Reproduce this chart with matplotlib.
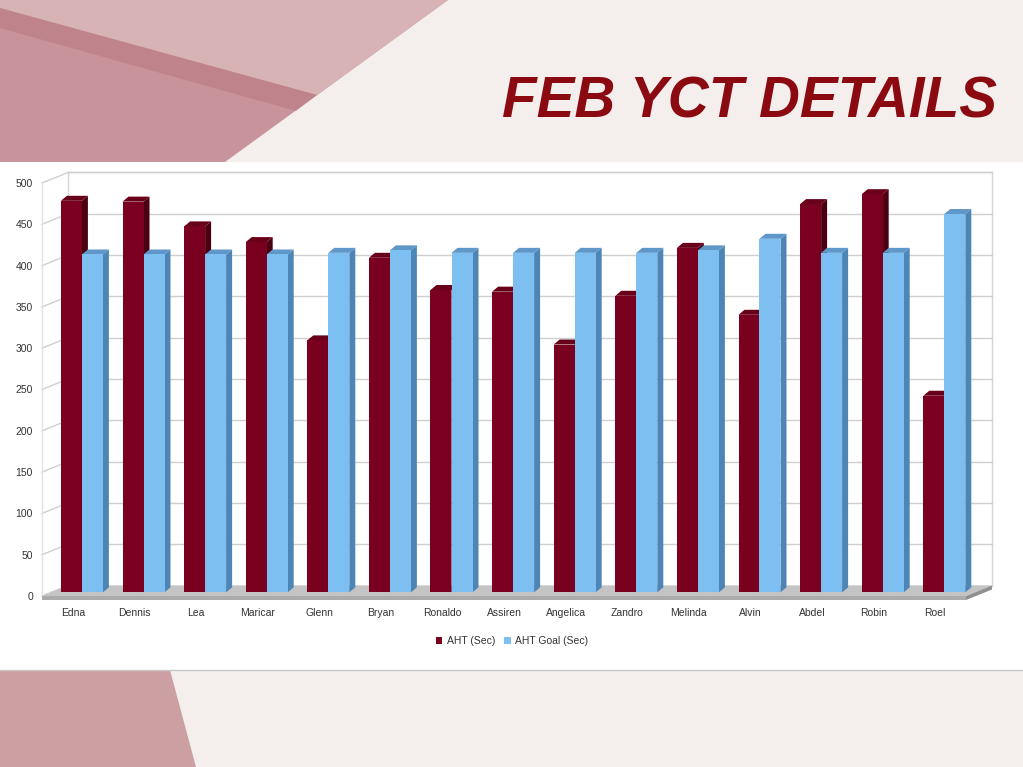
import matplotlib
matplotlib.use('Agg')
import matplotlib.pyplot as plt
from matplotlib.patches import Polygon, Rectangle, Patch
from matplotlib import font_manager

# ---------------- data ----------------
categories = ['Edna', 'Dennis', 'Lea', 'Maricar', 'Glenn', 'Bryan', 'Ronaldo', 'Assiren',
              'Angelica', 'Zandro', 'Melinda', 'Alvin', 'Abdel', 'Robin', 'Roel']
aht = [474, 473, 443, 424, 305, 405, 366, 364, 300, 359, 417, 336, 470, 482, 238]
aht_goal = [409, 409, 409, 409, 411, 414, 411, 411, 411, 411, 414, 428, 411, 411, 458]
series_names = ['AHT (Sec)', 'AHT Goal (Sec)']
yticks = [0, 50, 100, 150, 200, 250, 300, 350, 400, 450, 500]
title = 'FEB YCT DETAILS'

# ---------------- style ----------------
RED = ['#7a0020', '#4a0012', '#68001a']     # front, side, top
BLUE = ['#7dbff1', '#4d86b6', '#5f97c8']
TXT = '#333333'

W, H = 1023, 767
fig = plt.figure(figsize=(W / 100, H / 100), dpi=100)
fig.patch.set_facecolor('#f4efed')


def has_font(name):
    try:
        font_manager.findfont(font_manager.FontProperties(family=name),
                              fallback_to_default=False)
        return True
    except Exception:
        return False


# ---------------- decorative background ----------------
bg = fig.add_axes([0, 0, 1, 1], zorder=0)
bg.set_xlim(0, W)
bg.set_ylim(H, 0)
bg.axis('off')
bg.add_patch(Polygon([(0, 0), (448, 0), (225, 162), (0, 162)], closed=True,
                     facecolor='#c8939a', edgecolor='none'))
bg.add_patch(Polygon([(0, 0), (448, 0), (317, 95), (0, 8)], closed=True,
                     facecolor='#d7b3b6', edgecolor='none'))
bg.add_patch(Polygon([(0, 8), (317, 95), (296, 111), (0, 28)], closed=True,
                     facecolor='#b97a82', edgecolor='none', alpha=0.6))
bg.add_patch(Polygon([(0, 670), (170, 670), (196, 767), (0, 767)], closed=True,
                     facecolor='#cca0a3', edgecolor='none'))
bg.add_patch(Rectangle((0, 162), W, 508, facecolor='white', edgecolor='none'))
bg.plot([0, W], [670, 670], color='#c8c8c8', lw=1)

# ---------------- chart (front plane axes) ----------------
px0, px1 = 42, 966      # x pixel extent of front floor edge
py0, py1 = 596, 183     # pixel of value 0 and value 500 on front plane
ax = fig.add_axes([px0 / W, 1 - py0 / H, (px1 - px0) / W, (py0 - py1) / H], zorder=1)
n = len(categories)
ax.set_xlim(-0.5, n - 0.5)
ax.set_ylim(0, 500)
ax.patch.set_alpha(0)
for s in ax.spines.values():
    s.set_visible(False)

ux = (px1 - px0) / n          # px per x unit
uy = (py0 - py1) / 500.0      # px per y unit
Dx, Dy = 26 / ux, 10.5 / uy   # chart depth
f = 0.35                      # bar depth position
bx, by = f * Dx, f * Dy
w = 21 / ux                   # bar width
sdx, sdy = 6 / ux, 5 / uy     # bar depth faces
t = 4 / uy                    # floor thickness
xl, xr = -0.5, n - 0.5

# back wall
ax.add_patch(Rectangle((xl + Dx, Dy), n, 500, facecolor='white', edgecolor='#d6d6d6',
                       lw=1, clip_on=False, zorder=0.5))
for v in yticks:
    ax.plot([xl + Dx, xr + Dx], [v + Dy, v + Dy], color='#cfcfcf', lw=1,
            clip_on=False, zorder=0.6)
    ax.plot([xl, xl + Dx], [v, v + Dy], color='#cfcfcf', lw=1, clip_on=False, zorder=0.6)
ax.plot([xl, xl], [0, 500], color='#e2e2e2', lw=1, clip_on=False, zorder=0.6)

# floor
ax.add_patch(Polygon([(xl, 0), (xr, 0), (xr + Dx, Dy), (xl + Dx, Dy)], closed=True,
                     facecolor='#c4c4c4', edgecolor='none', clip_on=False, zorder=0.7))
ax.add_patch(Polygon([(xl, 0), (xr, 0), (xr, -t), (xl, -t)], closed=True,
                     facecolor='#ababab', edgecolor='none', clip_on=False, zorder=0.7))
ax.add_patch(Polygon([(xr, 0), (xr + Dx, Dy), (xr + Dx, Dy - t), (xr, -t)], closed=True,
                     facecolor='#909090', edgecolor='none', clip_on=False, zorder=0.7))

# bars
z = 2
for i in range(n):
    for k, (vals, cols) in enumerate([(aht, RED), (aht_goal, BLUE)]):
        v = vals[i]
        xc = i + bx + (k - 0.5) * w
        a, b = xc - w / 2, xc + w / 2
        ax.add_patch(Polygon([(b, by), (b, by + v), (b + sdx, by + v + sdy), (b + sdx, by + sdy)],
                             closed=True, facecolor=cols[1], edgecolor='none',
                             clip_on=False, zorder=z))
        ax.add_patch(Polygon([(a, by + v), (b, by + v), (b + sdx, by + v + sdy), (a + sdx, by + v + sdy)],
                             closed=True, facecolor=cols[2], edgecolor='none',
                             clip_on=False, zorder=z))
        ax.bar(xc, v, width=w, bottom=by, color=cols[0], edgecolor='none',
               clip_on=False, zorder=z + 0.1)
        z += 0.2

# ticks
ax.set_yticks(yticks)
ax.set_yticklabels([str(v) for v in yticks], fontsize=7.5, color=TXT, family='Liberation Sans')
ax.set_xticks(range(n))
ax.set_xticklabels(categories, fontsize=7.5, color=TXT, family='Liberation Sans')
ax.tick_params(axis='y', length=0, pad=6.5)
ax.tick_params(axis='x', length=0, pad=8.5)

# legend
handles = [Patch(facecolor=RED[0], edgecolor='none'), Patch(facecolor=BLUE[0], edgecolor='none')]
fig.legend(handles, series_names, loc='center', bbox_to_anchor=(512 / W, 1 - 641 / H),
           ncol=2, frameon=False, prop={'family': 'Liberation Sans', 'size': 7.5},
           handlelength=0.6, handleheight=0.6, handletextpad=0.4, columnspacing=0.9,
           labelcolor=TXT)

# title
tfam = ['Liberation Sans Narrow', 'Liberation Sans'] if has_font('Liberation Sans Narrow') else ['Liberation Sans']
tt = fig.text(997 / W, 1 - 118 / H, title, ha='right', va='baseline', fontsize=46,
              fontweight='bold', fontstyle='italic', color='#8b0a12', family=tfam, zorder=3)
renderer = fig.canvas.get_renderer()
tw = tt.get_window_extent(renderer).width
if tw > 500:
    tt.set_fontsize(46 * 495 / tw)

fig.savefig('out.png', dpi=100, facecolor=fig.get_facecolor())
